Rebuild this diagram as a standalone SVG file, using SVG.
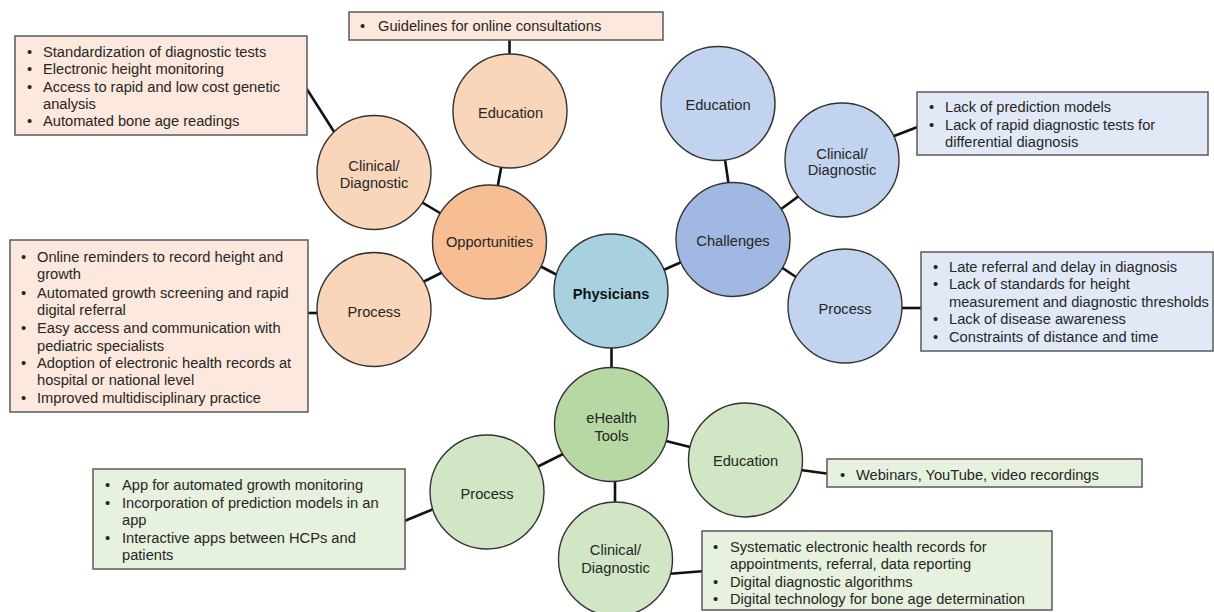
<svg xmlns="http://www.w3.org/2000/svg" width="1214" height="612" viewBox="0 0 1214 612">
<style>
text{font-family:"Liberation Sans",Arial,sans-serif;font-size:14.67px;fill:#262626}
.c{text-anchor:middle}
.b{font-weight:bold;fill:#111}
.node{stroke:#333;stroke-width:1.4}
.box{stroke:#5a5a5a;stroke-width:1.5}
.o1{fill:#f9d5ba}.o2{fill:#f6be92}.ob{fill:#fce8dc}
.u1{fill:#c1d3ee}.u2{fill:#a1b9e2}.ub{fill:#e2e9f6}
.g1{fill:#d1e6c5}.g2{fill:#b7d8a2}.gb{fill:#e6f1de}
.p{fill:#a8d1df}
#connectors line{stroke:#111;stroke-width:2.6}
</style>
<rect width="1214" height="612" fill="#fff"/>
<g id="connectors">
<line x1="509.5" y1="38" x2="509.5" y2="58"/>
<line x1="303" y1="83" x2="338" y2="138"/>
<line x1="502" y1="163" x2="497" y2="190"/>
<line x1="418" y1="200" x2="445" y2="216"/>
<line x1="419" y1="284" x2="445" y2="271"/>
<line x1="305" y1="313" x2="321" y2="313"/>
<line x1="536" y1="264" x2="561" y2="277"/>
<line x1="659" y1="272" x2="686" y2="260"/>
<line x1="724.5" y1="156" x2="729" y2="187"/>
<line x1="777" y1="212" x2="803" y2="193"/>
<line x1="778" y1="265" x2="802" y2="281"/>
<line x1="889" y1="138" x2="920" y2="126"/>
<line x1="897" y1="308" x2="924" y2="308"/>
<line x1="611.5" y1="343" x2="611.5" y2="372"/>
<line x1="567" y1="452" x2="533" y2="469"/>
<line x1="402" y1="522" x2="436" y2="508"/>
<line x1="662" y1="440" x2="694" y2="448"/>
<line x1="797" y1="469.5" x2="830" y2="474"/>
<line x1="615" y1="477" x2="615" y2="507"/>
<line x1="667" y1="574" x2="705" y2="571"/>
</g>

<g id="box-guidelines">
<rect class="box ob" x="349" y="12" width="314" height="28"/>
<text x="360" y="31">•</text><text x="378" y="31">Guidelines for online consultations</text>
</g>
<g id="box-opp-clinical">
<rect class="box ob" x="15" y="36" width="292" height="99"/>
<text x="27" y="57">•</text><text x="43" y="57">Standardization of diagnostic tests</text>
<text x="27" y="74.3">•</text><text x="43" y="74.3">Electronic height monitoring</text>
<text x="27" y="91.6">•</text><text x="43" y="91.6">Access to rapid and low cost genetic</text>
<text x="43" y="108.9">analysis</text>
<text x="27" y="126">•</text><text x="43" y="126">Automated bone age readings</text>
</g>
<g id="box-opp-process">
<rect class="box ob" x="10" y="240" width="298" height="172"/>
<text x="21" y="261.7">•</text><text x="37" y="261.7">Online reminders to record height and</text>
<text x="37" y="279">growth</text>
<text x="21" y="298">•</text><text x="37" y="298">Automated growth screening and rapid</text>
<text x="37" y="315">digital referral</text>
<text x="21" y="333">•</text><text x="37" y="333">Easy access and communication with</text>
<text x="37" y="351">pediatric specialists</text>
<text x="21" y="368">•</text><text x="37" y="368">Adoption of electronic health records at</text>
<text x="37" y="385">hospital or national level</text>
<text x="21" y="403">•</text><text x="37" y="403">Improved multidisciplinary practice</text>
</g>
<g id="box-chal-clinical">
<rect class="box ub" x="917" y="92" width="291" height="63"/>
<text x="929" y="111.7">•</text><text x="945" y="111.7">Lack of prediction models</text>
<text x="929" y="130">•</text><text x="945" y="130">Lack of rapid diagnostic tests for</text>
<text x="945" y="146.7">differential diagnosis</text>
</g>
<g id="box-chal-process">
<rect class="box ub" x="921" y="252" width="292" height="99"/>
<text x="933" y="271.7">•</text><text x="949" y="271.7">Late referral and delay in diagnosis</text>
<text x="933" y="289.3">•</text><text x="949" y="289.3">Lack of standards for height</text>
<text x="949" y="306.7">measurement and diagnostic thresholds</text>
<text x="933" y="324.3">•</text><text x="949" y="324.3">Lack of disease awareness</text>
<text x="933" y="341.7">•</text><text x="949" y="341.7">Constraints of distance and time</text>
</g>
<g id="box-eh-education">
<rect class="box gb" x="827" y="459" width="315" height="28"/>
<text x="840" y="480">•</text><text x="856" y="480">Webinars, YouTube, video recordings</text>
</g>
<g id="box-eh-process">
<rect class="box gb" x="93" y="469" width="312" height="100"/>
<text x="105" y="490">•</text><text x="122" y="490">App for automated growth monitoring</text>
<text x="105" y="507.7">•</text><text x="122" y="507.7">Incorporation of prediction models in an</text>
<text x="122" y="525">app</text>
<text x="105" y="542.7">•</text><text x="122" y="542.7">Interactive apps between HCPs and</text>
<text x="122" y="560">patients</text>
</g>
<g id="box-eh-clinical">
<rect class="box gb" x="702" y="531" width="350" height="79"/>
<text x="713" y="552">•</text><text x="730" y="552">Systematic electronic health records for</text>
<text x="730" y="569">appointments, referral, data reporting</text>
<text x="713" y="587">•</text><text x="730" y="587">Digital diagnostic algorithms</text>
<text x="713" y="603.5">•</text><text x="730" y="603.5">Digital technology for bone age determination</text>
</g>

<g id="node-physicians"><circle class="node p" cx="611" cy="291" r="57"/><text class="c b" x="611" y="298.5">Physicians</text></g>
<g id="node-opportunities"><circle class="node o2" cx="489.5" cy="242" r="57"/><text class="c" x="489.5" y="247">Opportunities</text></g>
<g id="node-opp-education"><circle class="node o1" cx="510" cy="111" r="57"/><text class="c" x="510.5" y="117.5">Education</text></g>
<g id="node-opp-clinical"><circle class="node o1" cx="374" cy="172.5" r="57"/><text class="c" x="374" y="171">Clinical/</text><text class="c" x="374" y="187.5">Diagnostic</text></g>
<g id="node-opp-process"><circle class="node o1" cx="374" cy="309.5" r="57"/><text class="c" x="374" y="316.5">Process</text></g>
<g id="node-challenges"><circle class="node u2" cx="733" cy="239.5" r="57"/><text class="c" x="733" y="246">Challenges</text></g>
<g id="node-chal-education"><circle class="node u1" cx="718" cy="103.5" r="57"/><text class="c" x="718" y="109.5">Education</text></g>
<g id="node-chal-clinical"><circle class="node u1" cx="842" cy="160" r="57"/><text class="c" x="842" y="158.5">Clinical/</text><text class="c" x="842" y="175">Diagnostic</text></g>
<g id="node-chal-process"><circle class="node u1" cx="845" cy="306" r="57"/><text class="c" x="845" y="313.5">Process</text></g>
<g id="node-ehealth"><circle class="node g2" cx="611.5" cy="424.5" r="57"/><text class="c" x="611.5" y="422.5">eHealth</text><text class="c" x="611.5" y="440.5">Tools</text></g>
<g id="node-eh-process"><circle class="node g1" cx="487" cy="492" r="57"/><text class="c" x="487" y="498.5">Process</text></g>
<g id="node-eh-education"><circle class="node g1" cx="745.5" cy="460" r="57"/><text class="c" x="745.5" y="466">Education</text></g>
<g id="node-eh-clinical"><circle class="node g1" cx="615.5" cy="559" r="57"/><text class="c" x="615.5" y="555">Clinical/</text><text class="c" x="615.5" y="572.5">Diagnostic</text></g>
</svg>
